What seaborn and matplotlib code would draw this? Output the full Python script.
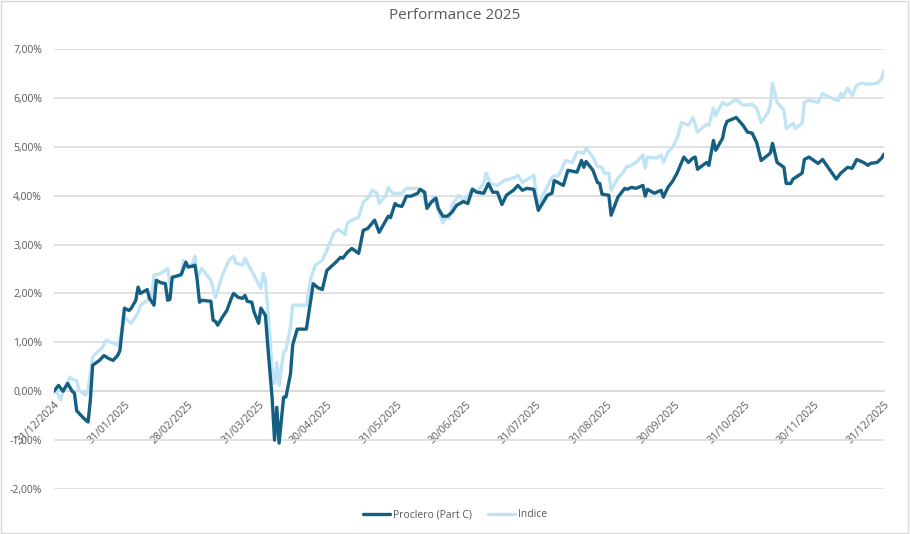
import pandas as pd
import numpy as np
import matplotlib
matplotlib.use("Agg")
import matplotlib.pyplot as plt
import matplotlib.dates as mdates
from matplotlib.ticker import FuncFormatter
from matplotlib.patches import Rectangle
import seaborn as sns

# days since 31/12/2024 and cumulative performance (%)
proclero_days = [0, 2, 4, 6, 8, 9, 10, 13, 15, 16, 17, 20, 22, 24, 26, 28, 29, 31, 33, 34,
                 36, 37, 38, 41, 42, 44, 45, 47, 49, 50, 51, 52, 55, 56, 58, 59, 61, 62, 63, 64,
                 65, 69, 70, 71, 72, 74, 76, 78, 79, 81, 83, 84, 85, 87, 88, 90, 91, 93, 94, 96,
                 97, 98, 99, 101, 102, 104, 105, 107, 111, 114, 116, 118, 120, 124, 126, 127, 129, 131, 134, 136,
                 138, 141, 143, 147, 148, 150, 151, 153, 155, 157, 160, 161, 163, 164, 166, 168, 169, 171, 173, 175,
                 177, 180, 182, 184, 186, 189, 191, 193, 195, 197, 199, 202, 204, 206, 208, 211, 213, 217, 219, 220,
                 224, 226, 230, 232, 233, 234, 237, 239, 240, 241, 244, 245, 248, 251, 252, 254, 256, 259, 260, 261,
                 264, 267, 268, 270, 272, 274, 277, 279, 281, 282, 283, 287, 288, 290, 291, 294, 295, 296, 300, 303,
                 305, 307, 309, 311, 314, 315, 316, 318, 321, 322, 324, 325, 329, 330, 332, 336, 338, 344, 346, 349,
                 351, 353, 356, 358, 359, 362, 364, 365]
proclero_vals = [0.00, 0.12, 0.00, 0.16, 0.00, -0.04, -0.40, -0.55, -0.63, -0.18, 0.53, 0.63, 0.73, 0.67, 0.63, 0.73, 0.83, 1.70, 1.65, 1.70,
                 1.86, 2.13, 2.00, 2.08, 1.90, 1.76, 2.27, 2.22, 2.20, 1.86, 1.88, 2.33, 2.37, 2.39, 2.64, 2.54, 2.56, 2.58, 2.27, 1.82,
                 1.86, 1.84, 1.45, 1.43, 1.35, 1.51, 1.65, 1.90, 2.00, 1.92, 1.90, 1.96, 1.84, 1.82, 1.62, 1.39, 1.70, 1.55, 0.94, -0.18,
                 -1.00, -0.33, -1.06, -0.12, -0.12, 0.35, 0.95, 1.27, 1.27, 2.20, 2.12, 2.08, 2.47, 2.64, 2.74, 2.72, 2.84, 2.92, 2.82, 3.29,
                 3.33, 3.50, 3.25, 3.58, 3.55, 3.84, 3.80, 3.78, 3.99, 3.99, 4.05, 4.13, 4.07, 3.74, 3.87, 3.95, 3.74, 3.58, 3.58, 3.66,
                 3.80, 3.88, 3.84, 4.13, 4.07, 4.05, 4.25, 4.07, 4.07, 3.82, 4.01, 4.11, 4.21, 4.11, 4.15, 4.13, 3.70, 4.01, 4.05, 4.31,
                 4.21, 4.52, 4.48, 4.72, 4.58, 4.70, 4.52, 4.27, 4.25, 4.03, 4.01, 3.60, 3.97, 4.15, 4.13, 4.17, 4.15, 4.21, 3.99, 4.13,
                 4.05, 4.11, 3.97, 4.17, 4.29, 4.46, 4.79, 4.68, 4.77, 4.79, 4.54, 4.68, 4.62, 5.13, 4.93, 5.17, 5.40, 5.52, 5.60, 5.44,
                 5.30, 5.28, 5.09, 4.72, 4.83, 4.87, 5.07, 4.68, 4.58, 4.25, 4.25, 4.34, 4.46, 4.74, 4.79, 4.66, 4.74, 4.34, 4.46, 4.58,
                 4.56, 4.74, 4.68, 4.62, 4.66, 4.68, 4.77, 4.85]

indice_days = [0, 1, 3, 4, 6, 7, 9, 10, 11, 14, 15, 17, 19, 21, 23, 26, 28, 29, 31, 34,
               37, 38, 41, 43, 44, 47, 50, 51, 52, 56, 57, 59, 61, 62, 63, 65, 69, 71, 72, 74,
               77, 79, 80, 83, 84, 86, 88, 91, 92, 93, 95, 96, 97, 98, 99, 101, 102, 104, 105, 111,
               113, 115, 118, 120, 123, 125, 128, 129, 131, 134, 136, 138, 140, 142, 143, 146, 147, 149, 153, 155,
               160, 162, 164, 167, 168, 171, 172, 174, 175, 178, 180, 182, 184, 186, 189, 190, 192, 195, 198, 203,
               204, 206, 211, 213, 215, 219, 222, 225, 228, 230, 233, 234, 237, 239, 241, 242, 244, 245, 248, 250,
               252, 253, 256, 259, 260, 261, 265, 267, 268, 270, 272, 274, 276, 279, 281, 283, 287, 288, 290, 291,
               294, 296, 300, 303, 307, 309, 311, 314, 315, 316, 318, 321, 322, 325, 326, 329, 330, 332, 336, 338,
               343, 345, 346, 347, 349, 351, 353, 355, 358, 362, 364, 365]
indice_vals = [0.00, 0.00, -0.18, 0.00, 0.16, 0.29, 0.22, 0.22, 0.02, -0.08, 0.02, 0.70, 0.80, 0.88, 1.04, 0.98, 0.94, 1.08, 1.51, 1.39,
               1.60, 1.76, 1.86, 1.92, 2.37, 2.41, 2.51, 2.20, 2.33, 2.37, 2.68, 2.54, 2.62, 2.76, 2.33, 2.51, 2.27, 1.92, 2.06, 2.37,
               2.68, 2.76, 2.62, 2.58, 2.72, 2.54, 2.37, 2.10, 2.41, 2.27, 1.10, 0.37, 0.16, 0.59, 0.12, 0.80, 0.84, 1.31, 1.76, 1.76,
               2.33, 2.58, 2.68, 2.88, 3.23, 3.31, 3.21, 3.44, 3.50, 3.56, 3.87, 3.95, 4.11, 4.05, 3.84, 4.01, 4.17, 4.05, 4.05, 4.15,
               4.15, 4.09, 3.76, 3.97, 3.84, 3.44, 3.54, 3.54, 3.80, 4.01, 3.90, 3.99, 4.15, 4.07, 4.25, 4.46, 4.25, 4.21, 4.31, 4.38,
               4.42, 4.27, 4.42, 3.76, 4.01, 4.38, 4.42, 4.72, 4.68, 4.89, 4.87, 4.97, 4.79, 4.60, 4.58, 4.46, 4.46, 4.11, 4.36, 4.46,
               4.60, 4.60, 4.68, 4.83, 4.56, 4.79, 4.77, 4.83, 4.68, 4.89, 4.99, 5.17, 5.50, 5.44, 5.60, 5.30, 5.46, 5.44, 5.79, 5.64,
               5.91, 5.85, 5.97, 5.85, 5.87, 5.79, 5.50, 5.70, 5.85, 6.30, 5.91, 5.75, 5.38, 5.48, 5.38, 5.48, 5.91, 5.95, 5.91, 6.09,
               5.97, 5.95, 6.09, 6.01, 6.20, 6.05, 6.26, 6.30, 6.28, 6.30, 6.40, 6.55]

series_names = ["Proclero (Part C)", "Indice"]
series_colors = ["#156082", "#C0E4F5"]

start = pd.Timestamp("2024-12-31")
df = pd.concat([
    pd.DataFrame({"date": start + pd.to_timedelta(proclero_days, unit="D"),
                  "perf": proclero_vals, "serie": series_names[0]}),
    pd.DataFrame({"date": start + pd.to_timedelta(indice_days, unit="D"),
                  "perf": indice_vals, "serie": series_names[1]}),
], ignore_index=True)

sns.set_style("white")
plt.rcParams["font.family"] = ["Open Sans", "DejaVu Sans"]
grey = "#595959"

fig = plt.figure(figsize=(9.1, 5.34), dpi=100)
ax = fig.add_axes([0.0593, 0.0843, 0.9121, 0.8239])

# draw the index first so the fund line sits on top
sns.lineplot(data=df[df.serie == series_names[1]], x="date", y="perf", color=series_colors[1],
             linewidth=2.4, estimator=None, ax=ax, label=series_names[1], zorder=3)
sns.lineplot(data=df[df.serie == series_names[0]], x="date", y="perf", color=series_colors[0],
             linewidth=2.4, estimator=None, ax=ax, label=series_names[0], zorder=4)

ax.set_ylim(-2, 7)
ax.set_yticks(np.arange(-2, 8, 1))
ax.yaxis.set_major_formatter(FuncFormatter(lambda v, p: f"{v:.2f}%".replace(".", ",")))
ax.set_xlim(start, pd.Timestamp("2025-12-31"))
ax.set_xticks(pd.date_range("2024-12-31", "2025-12-31", freq="ME"))
ax.xaxis.set_major_formatter(mdates.DateFormatter("%d/%m/%Y"))

ax.grid(axis="y", color="#d9d9d9", linewidth=1.1)
ax.set_axisbelow(True)
for s in ["top", "right", "left"]:
    ax.spines[s].set_visible(False)
ax.spines["bottom"].set_position(("data", 0))
ax.spines["bottom"].set_color("#d9d9d9")
ax.spines["bottom"].set_linewidth(1.1)
ax.tick_params(axis="x", length=4, width=1, color="#d9d9d9", labelsize=7.5, labelcolor=grey, pad=2)
ax.tick_params(axis="y", length=0, labelsize=7.5, labelcolor=grey, pad=8.5)
plt.setp(ax.get_xticklabels(), rotation=45, ha="right", va="top", rotation_mode="anchor")
ax.set_xlabel("")
ax.set_ylabel("")

fig.suptitle("Performance 2025", x=0.5, y=0.985, fontsize=11, color=grey)

ax.get_legend().remove()
handles, labels = ax.get_legend_handles_labels()
order = [labels.index(n) for n in series_names]
fig.legend([handles[i] for i in order], [labels[i] for i in order], loc="lower center",
           bbox_to_anchor=(0.5, 0.008), ncol=2, frameon=False, fontsize=7.5, labelcolor=grey,
           handlelength=2.6, handletextpad=0.3, columnspacing=1.5)

fig.patches.append(Rectangle((0.001, 0.001), 0.997, 0.997, transform=fig.transFigure,
                             fill=False, edgecolor="#d9d9d9", linewidth=1))

plt.savefig("out.png", dpi=100)
